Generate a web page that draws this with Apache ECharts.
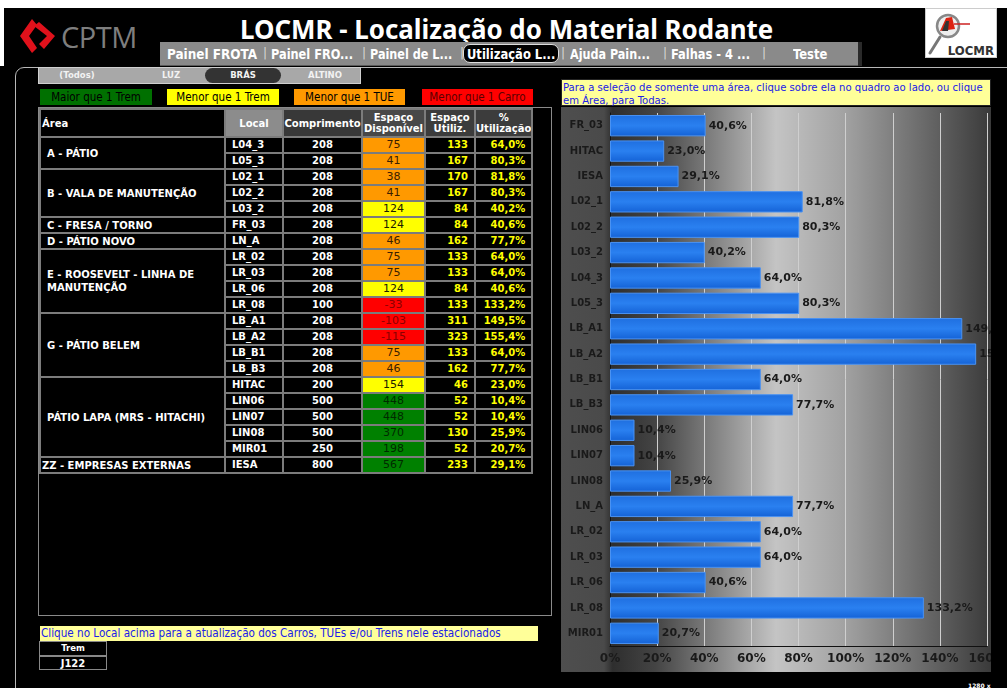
<!DOCTYPE html>
<html>
<head>
<meta charset="utf-8">
<script src="https://cdn.jsdelivr.net/npm/echarts@6/dist/echarts.min.js"></script>
<style>
  html, body { margin: 0; padding: 0; }
  body {
    width: 1007px; height: 688px; overflow: hidden; position: relative;
    background: #000; font-family: "DejaVu Sans", Verdana, sans-serif;
  }
  .abs { position: absolute; }
  .fit { white-space: nowrap; transform-origin: 0 50%; display: inline-block; }
  .tabs { left: 160px; top: 42px; width: 698px; height: 23px; background: #8a8a8a;
    border-bottom: 1px solid #5a5a5a; box-shadow: 4px 0 0 #2a2a2a; }
  .tab { position: absolute; top: 3px; height: 18px; line-height: 18px; color: #fff;
    font-weight: bold; font-size: 14px; font-family: "DejaVu Sans Condensed", "DejaVu Sans", sans-serif;
    font-stretch: condensed; }
  .sep { position: absolute; top: 4px; color: #d8d8d8; font-size: 12px; }
  .slicer { left: 38px; top: 67px; width: 323px; height: 17px; background: #a8a8a8;
    border: 1px solid #d0d0d0; box-sizing: border-box; }
  .sl { position: absolute; top: 0; height: 15px; line-height: 15px; color: #f2f2f2;
    font-size: 8.5px; font-weight: bold; text-align: center; }
  .leg { top: 89px; height: 16px; line-height: 16px; font-size: 11.5px; text-align: center;
    font-family: "DejaVu Sans Condensed", "DejaVu Sans", sans-serif; font-stretch: condensed; }
  table.main { position: absolute; left: 39px; top: 108px; border-collapse: collapse;
    table-layout: fixed; }
  table.main td, table.main th { border: 2px solid #7c7c7c; padding: 0; overflow: hidden;
    font-size: 10px; font-weight: bold; color: #fff; white-space: nowrap; box-sizing: border-box; }
  table.main th { height: 28px; line-height: 11px; text-align: center; background: #3c3c3c; }
  table.main td { height: 16px; line-height: 12px; background: #000; }
  td.area { white-space: normal !important; padding-left: 6px !important; line-height: 13px !important; }
  td.loc { padding-left: 6px !important; }
  td.num { text-align: right; padding-right: 6px !important; color: #ffff00 !important; }
  td.disp { text-align: center; font-weight: normal !important; font-size: 11px !important; }
  .note { background: #ffff99; color: #2020e8;
    font-family: "DejaVu Sans Condensed", "DejaVu Sans", sans-serif; font-stretch: condensed; }
</style>
</head>
<body>
<div class="abs" style="left:0;top:0;width:1007px;height:8px;background:#fff"></div>
<div class="abs" style="left:0;top:0;width:4px;height:66px;background:#fff"></div>

<!-- CPTM logo -->
<svg class="abs" style="left:18px;top:18px" width="40" height="38" viewBox="0 0 40 38">
  <path d="M14,1 L2,18 L14,35 L19,30 L11,18 L19,7 Z" fill="#e0111b"/>
  <path d="M21,4 L37,18 L26,31 L21,26 L29,18 L16,8 Z" fill="#e0111b"/>
</svg>
<div class="abs" style="left:61px;top:17px;color:#7e7e7e;font-size:29px;font-family:'Open Sans','Noto Sans',sans-serif;letter-spacing:-0.5px">CPTM</div>

<!-- title -->
<div class="abs" style="left:240px;top:12px;height:34px;line-height:34px">
  <span class="fit" data-w="533" style="color:#fff;font-weight:bold;font-size:26px;font-family:'Noto Sans',sans-serif">LOCMR - Localização do Material Rodante</span>
</div>

<!-- tabs -->
<div class="abs tabs" id="tabs"></div>

<!-- LOCMR logo -->
<div class="abs" style="left:925px;top:8px;width:72px;height:50px;background:#fff;border:1px solid #ccc;box-sizing:border-box">
  <svg width="72" height="50" viewBox="0 0 72 50" style="position:absolute;left:0;top:0">
    <line x1="14" y1="28" x2="4" y2="44" stroke="#777" stroke-width="3" stroke-linecap="round"/>
    <circle cx="22" cy="17" r="11" fill="#eee" stroke="#888" stroke-width="2.5"/>
    <path d="M14,22 L20,9 L26,8 L29,20 Z" fill="#d21" />
    <path d="M16,22 L20,12 L23,12 L22,22 Z" fill="#333" />
    <line x1="28" y1="15" x2="44" y2="15" stroke="#c22" stroke-width="1.5"/>
    <text x="68" y="46" text-anchor="end" font-family="DejaVu Sans Condensed, DejaVu Sans, sans-serif" font-weight="bold" font-size="13" fill="#333">LOCMR</text>
  </svg>
</div>

<!-- main panel border -->
<div class="abs" style="left:15px;top:67px;width:1010px;height:640px;border:1px solid #b8b8b8;border-radius:9px;box-sizing:border-box"></div>

<!-- slicer -->
<div class="abs slicer" id="slicer"></div>

<!-- legend -->
<div class="abs leg" style="left:40px;width:112px;background:#007000;color:#000">Maior que 1 Trem</div>
<div class="abs leg" style="left:167px;width:112px;background:#ffff00;color:#000">Menor que 1 Trem</div>
<div class="abs leg" style="left:294px;width:111px;background:#ff9900;color:#000">Menor que 1 TUE</div>
<div class="abs leg" style="left:422px;width:111px;background:#ff0000;color:#5a0000">Menor que 1 Carro</div>

<!-- table frame -->
<div class="abs" style="left:38px;top:107px;width:514px;height:509px;border:1px solid #8a8a8a;box-sizing:border-box"></div>
<table class="main" id="tbl"></table>

<!-- bottom note -->
<div class="abs note" style="left:40px;top:626px;width:497px;height:15px;line-height:15px;padding-left:1px;font-size:11.6px">Clique no Local acima para a atualização dos Carros, TUEs e/ou Trens nele estacionados</div>
<div class="abs" style="left:39px;top:641px;width:68px;height:29px;border:1px solid #888;box-sizing:border-box">
  <div style="height:13px;line-height:13px;border-bottom:2px solid #888;text-align:center;color:#fff;font-weight:bold;font-size:8.5px">Trem</div>
  <div style="height:13px;line-height:13px;text-align:center;color:#fff;font-weight:bold;font-size:10px">J122</div>
</div>

<!-- right note -->
<div class="abs note" style="left:561px;top:79px;width:430px;height:27px;line-height:13px;padding:1px 1px;box-sizing:border-box;border:1px solid #222;font-size:11.2px">Para a seleção de somente uma área, clique sobre ela no quadro ao lado, ou clique em Área, para Todas.</div>

<div id="chart" class="abs" style="left:561px;top:107px;width:430px;height:565px"></div>

<div class="abs" style="left:968px;top:682px;color:#fff;font-size:6px;font-weight:bold">1280 x 1024</div>

<script>
// dados da tabela (ordem da tabela)
const areas = ['A - PÁTIO', 'B - VALA DE MANUTENÇÃO', 'C - FRESA / TORNO', 'D - PÁTIO NOVO',
  'E - ROOSEVELT - LINHA DE MANUTENÇÃO', 'G - PÁTIO BELEM', 'PÁTIO LAPA (MRS - HITACHI)', 'ZZ - EMPRESAS EXTERNAS']
const areaRows = [2, 3, 1, 1, 4, 4, 5, 1]
const locais = ['L04_3', 'L05_3', 'L02_1', 'L02_2', 'L03_2', 'FR_03', 'LN_A', 'LR_02', 'LR_03', 'LR_06', 'LR_08',
  'LB_A1', 'LB_A2', 'LB_B1', 'LB_B3', 'HITAC', 'LIN06', 'LIN07', 'LIN08', 'MIR01', 'IESA']
const comprimento = [208, 208, 208, 208, 208, 208, 208, 208, 208, 208, 100, 208, 208, 208, 208, 200, 500, 500, 500, 250, 800]
const disponivel = [75, 41, 38, 41, 124, 124, 46, 75, 75, 124, -33, -103, -115, 75, 46, 154, 448, 448, 370, 198, 567]
const utilizado = [133, 167, 170, 167, 84, 84, 162, 133, 133, 84, 133, 311, 323, 133, 162, 46, 52, 52, 130, 52, 233]
const utilizacao = [64.0, 80.3, 81.8, 80.3, 40.2, 40.6, 77.7, 64.0, 64.0, 40.6, 133.2, 149.5, 155.4, 64.0, 77.7,
  23.0, 10.4, 10.4, 25.9, 20.7, 29.1]

// cabeçalho / menus
const tabNames = ['Painel FROTA', 'Painel FRO...', 'Painel de L...', 'Utilização L...', 'Ajuda Pain...', 'Falhas - 4 ...', 'Teste']
const tabX = [7, 111, 210, 307, 410, 511, 633]
const tabW = [90, 82, 82, 88, 80, 79, 34]
const sepX = [103, 202, 300, 401, 503, 602]
const slicerNames = ['(Todos)', 'LUZ', 'BRÁS', 'ALTINO']
const slicerX = [8, 98, 166, 250]
const slicerW = [60, 68, 76, 72]

const fmt = v => v.toFixed(1).replace('.', ',') + '%'

// status do espaço disponível
const dispStyle = v => {
  if (v < 0) return { bg: '#ff0000', fg: '#8a0000' }
  if (v < 100) return { bg: '#ff9900', fg: '#3a2000' }
  if (v < 190) return { bg: '#ffff00', fg: '#202000' }
  return { bg: '#008000', fg: '#002a00' }
}

// monta abas
const tabs = document.getElementById('tabs')
tabNames.forEach((t, i) => {
  if (i === 3) {
    const pill = document.createElement('div')
    pill.style.cssText = `position:absolute;left:${tabX[i] - 4}px;top:2px;width:${tabW[i] + 8}px;height:19px;background:#000;border-radius:7px;border:1px solid #ddd;box-sizing:border-box`
    tabs.appendChild(pill)
  }
  const d = document.createElement('div')
  d.className = 'tab'
  d.style.left = tabX[i] + 'px'
  d.innerHTML = `<span class="fit" data-w="${tabW[i]}">${t}</span>`
  tabs.appendChild(d)
})
sepX.forEach(x => {
  const s = document.createElement('div')
  s.className = 'sep'
  s.style.left = x + 'px'
  s.textContent = '|'
  tabs.appendChild(s)
})

// monta seletor
const slicer = document.getElementById('slicer')
slicerNames.forEach((t, i) => {
  const d = document.createElement('div')
  d.className = 'sl'
  d.style.left = slicerX[i] + 'px'
  d.style.width = slicerW[i] + 'px'
  if (t === 'BRÁS') {
    d.style.background = '#333'
    d.style.borderRadius = '8px'
  }
  d.textContent = t
  slicer.appendChild(d)
})

// monta tabela
const colW = [185, 58, 79, 63, 50, 57]
let html = '<colgroup>' + colW.map(w => `<col style="width:${w}px">`).join('') + '</colgroup>'
html += '<tr><th style="text-align:left;background:#000;padding-left:1px">Área</th>' +
  '<th style="background:#8c8c8c">Local</th><th style="background:#383838">Comprimento</th>' +
  '<th style="background:#484848">Espaço<br>Disponível</th><th>Espaço<br>Utiliz.</th><th>%<br>Utilização</th></tr>'
let row = 0
areas.forEach((a, ai) => {
  for (let k = 0; k < areaRows[ai]; k++) {
    const st = dispStyle(disponivel[row])
    html += '<tr>'
    if (k === 0) {
      const pad = a.startsWith('ZZ') ? 'padding-left:1px !important;' : ''
      html += `<td class="area" rowspan="${areaRows[ai]}" style="${pad}">${a}</td>`
    }
    html += `<td class="loc">${locais[row]}</td>`
    html += `<td style="text-align:center">${comprimento[row]}</td>`
    html += `<td class="disp" style="background:${st.bg};color:${st.fg}">${disponivel[row]}</td>`
    html += `<td class="num">${utilizado[row]}</td>`
    html += `<td class="num">${fmt(utilizacao[row])}</td>`
    html += '</tr>'
    row++
  }
})
document.getElementById('tbl').innerHTML = html

// ajusta largura dos textos
document.querySelectorAll('.fit').forEach(el => {
  const w = +el.dataset.w
  el.style.transform = `scaleX(${w / el.offsetWidth})`
})

// gráfico: locais em ordem alfabética
const order = locais.map((l, i) => i).sort((a, b) => (locais[a] < locais[b] ? -1 : 1))
const chartLocais = order.map(i => locais[i])
const chartValores = order.map(i => utilizacao[i])

const chart = echarts.init(document.getElementById('chart'))
const txt = '#1a1a1a'
const font = '"DejaVu Sans", Verdana, sans-serif'
chart.setOption({
  animation: false,
  backgroundColor: new echarts.graphic.LinearGradient(0, 0, 1, 0, [
    { offset: 0, color: '#4e4e4e' },
    { offset: 0.1, color: '#4a4a4a' },
    { offset: 0.12, color: '#2e2e2e' },
    { offset: 0.22, color: '#444' },
    { offset: 0.5, color: '#c4c4c4' },
    { offset: 0.66, color: '#a2a2a2' },
    { offset: 1, color: '#3a3a3a' }
  ]),
  grid: { left: 49, right: 4, top: 6, bottom: 26, containLabel: false, outerBoundsMode: 'none' },
  xAxis: {
    type: 'value', min: 0, max: 160, interval: 20,
    axisLabel: { formatter: '{value}%', color: txt, fontWeight: 'bold', fontSize: 12, fontFamily: font, margin: 7 },
    splitLine: { lineStyle: { color: '#cfcfcf', width: 1 } },
    axisLine: { show: true, lineStyle: { color: '#111' } },
    axisTick: { show: false }
  },
  yAxis: {
    type: 'category', inverse: true, data: chartLocais,
    axisLabel: { color: txt, fontWeight: 'bold', fontSize: 10, fontFamily: font, margin: 7 },
    axisTick: { show: false },
    axisLine: { lineStyle: { color: '#111' } }
  },
  series: [{
    type: 'bar',
    data: chartValores,
    barCategoryGap: '16%',
    itemStyle: {
      color: new echarts.graphic.LinearGradient(0, 0, 0, 1, [
        { offset: 0, color: '#1f6fe0' },
        { offset: 0.5, color: '#2a80f0' },
        { offset: 1, color: '#1462d6' }
      ]),
      borderColor: '#4a92f2', borderWidth: 1
    },
    label: {
      show: true, position: 'right', distance: 3,
      formatter: p => fmt(p.value),
      color: txt, fontWeight: 'bold', fontSize: 11, fontFamily: font
    }
  }]
})
</script>
</body>
</html>
